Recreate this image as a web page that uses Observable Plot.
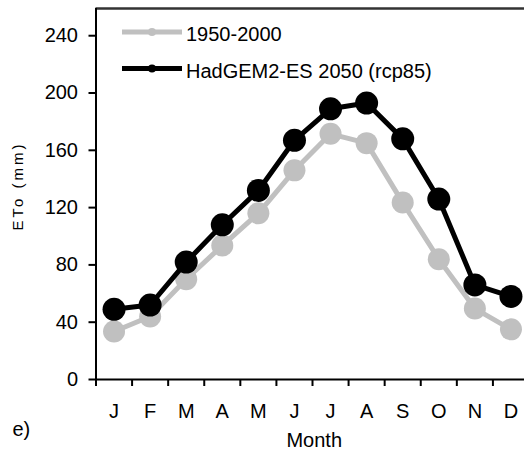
<!DOCTYPE html>
<html><head><meta charset="utf-8">
<script src="https://cdn.jsdelivr.net/npm/d3@7"></script>
<script src="https://cdn.jsdelivr.net/npm/@observablehq/plot@0.6"></script>
<style>html,body{margin:0;padding:0;background:#fff;overflow:hidden}</style>
</head><body><div id="chart"></div>
<script>
const months = ["J","F","M","A","M","J","J","A","S","O","N","D"];
const baseline = [33.5,44,70,93.5,116,146,171.5,165,123.5,84,49.5,35];
const hadgem = [49,52,82,108,132,167,189,193,168,126,66,58];
const seriesNames = ["1950-2000","HadGEM2-ES 2050 (rcp85)"];
const seriesColors = ["#c0c0c0","#000000"];
const yTicks = [0,40,80,120,160,200,240];
const yLabel = "ETo (mm)";
const xLabel = "Month";
const panelTag = "e)";

const rows = [];
months.forEach((m,i)=>rows.push({m:i+1, v:baseline[i], s:seriesNames[0]}));
months.forEach((m,i)=>rows.push({m:i+1, v:hadgem[i], s:seriesNames[1]}));
const gray = rows.filter(d=>d.s===seriesNames[0]);
const black = rows.filter(d=>d.s===seriesNames[1]);
const boundaries = d3.range(0.5, 13, 1);
const centers = d3.range(1, 13);

const font = "'Liberation Sans', Arial, sans-serif";
const plot = Plot.plot({
  width: 524, height: 453,
  marginLeft: 95.5, marginRight: 0, marginTop: 8, marginBottom: 74,
  style: {fontFamily: font, fontSize: "20px", color: "#000", background: "#fff", overflow: "hidden"},
  x: {type: "linear", domain: [0.5, 12.5], range: [95.5, 528.5]},
  y: {domain: [0, 259], range: [379, 8]},
  marks: [
    Plot.ruleY([259], {stroke: "#333", strokeWidth: 2.5}),
    Plot.ruleY([0], {stroke: "#000", strokeWidth: 2}),
    Plot.ruleX([0.5], {stroke: "#000", strokeWidth: 2}),
    Plot.axisY({ticks: yTicks, tickSize: 7, tickPadding: 11, label: null, strokeWidth: 2}),
    Plot.ruleX(boundaries, {x: d => d, y1: 0, y2: 0, insetBottom: -7, stroke: "#000", strokeWidth: 2}),
    Plot.axisX({ticks: centers, tickSize: 0, tickPadding: 24, tickFormat: d => months[d-1], label: null}),
    Plot.line(gray, {x: "m", y: "v", stroke: seriesColors[0], strokeWidth: 5}),
    Plot.dot(gray, {x: "m", y: "v", fill: seriesColors[0], r: 11}),
    Plot.line(black, {x: "m", y: "v", stroke: seriesColors[1], strokeWidth: 5}),
    Plot.dot(black, {x: "m", y: "v", fill: seriesColors[1], r: 11.5}),
    Plot.text([xLabel], {frameAnchor: "bottom", dx: 4, dy: 67}),
    Plot.text([panelTag], {frameAnchor: "bottom-left", textAnchor: "start", dx: -83.5, dy: 56.5})
  ]
});

const svg = d3.select(plot);
svg.append("text").attr("transform", "translate(18,186) rotate(-90)")
  .attr("text-anchor", "middle").attr("dy", "0.35em")
  .attr("font-family", font).attr("font-size", 15).attr("letter-spacing", 3)
  .attr("fill", "#000").text(yLabel);
const leg = svg.append("g").attr("font-family", font).attr("font-size", 20).attr("text-anchor", "start");
seriesNames.forEach((name, i) => {
  const y = 32 + i * 36.5;
  leg.append("line").attr("x1", 122).attr("x2", 182).attr("y1", y).attr("y2", y)
    .attr("stroke", seriesColors[i]).attr("stroke-width", 5);
  leg.append("circle").attr("cx", 152).attr("cy", y).attr("r", 4).attr("fill", seriesColors[i]);
  leg.append("text").attr("x", 186).attr("y", y + 3).attr("dy", "0.32em").attr("fill", "#000").text(name);
});
document.getElementById("chart").appendChild(plot);
</script></body></html>
